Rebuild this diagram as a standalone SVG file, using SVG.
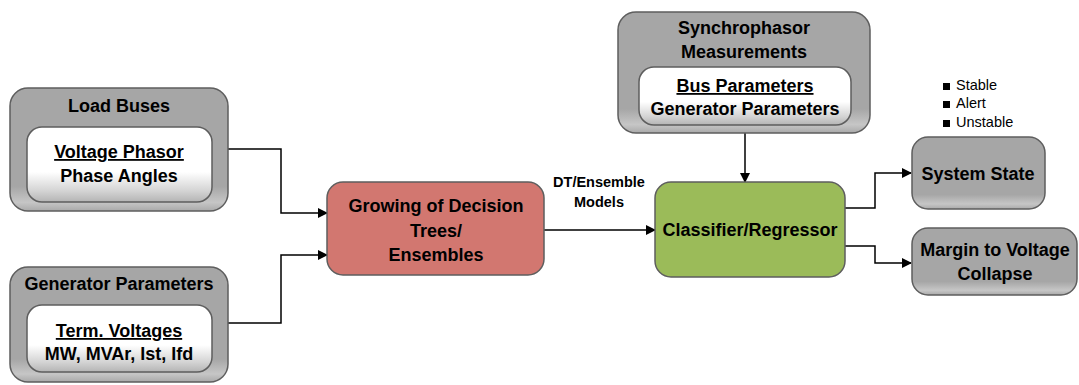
<svg xmlns="http://www.w3.org/2000/svg" width="1079" height="385" viewBox="0 0 1079 385">
  <defs>
    <linearGradient id="gGray" x1="0" y1="0" x2="0" y2="1">
      <stop offset="0" stop-color="#a6a6a6"/>
      <stop offset="0.8" stop-color="#a6a6a6"/>
      <stop offset="0.93" stop-color="#c6c6c6"/>
      <stop offset="1" stop-color="#a9a9a9"/>
    </linearGradient>
    <linearGradient id="gWhite" x1="0" y1="0" x2="0" y2="1">
      <stop offset="0" stop-color="#ffffff"/>
      <stop offset="0.6" stop-color="#ffffff"/>
      <stop offset="0.85" stop-color="#d4d4d4"/>
      <stop offset="1" stop-color="#b4b4b4"/>
    </linearGradient>
    <marker id="arr" markerWidth="10" markerHeight="10" refX="9" refY="5" orient="auto" markerUnits="userSpaceOnUse">
      <path d="M0,0 L10,5 L0,10 Z" fill="#000"/>
    </marker>
    <style>
      .outer { fill: url(#gGray); stroke: #5e5e5e; stroke-width: 1.5; }
      .inner { fill: url(#gWhite); stroke: #5e5e5e; stroke-width: 1.5; }
      .red { fill: #d27770; stroke: #5e5e5e; stroke-width: 1.5; }
      .green { fill: #9bbb59; stroke: #5e5e5e; stroke-width: 1.5; }
      .t { font-family: "Liberation Sans", Arial, sans-serif; font-weight: bold; font-size: 18px; fill: #000; text-anchor: middle; }
      .u { text-decoration: underline; }
      .s { font-family: "Liberation Sans", Arial, sans-serif; font-size: 14.5px; fill: #000; }
      .lbl { font-family: "Liberation Sans", Arial, sans-serif; font-weight: bold; font-size: 14.5px; fill: #000; text-anchor: middle; }
      .conn { fill: none; stroke: #000; stroke-width: 1.5; }
    </style>
  </defs>

  <!-- Connectors -->
  <g id="connectors">
    <polyline class="conn" points="228,149 281,149 281,213 327,213" marker-end="url(#arr)"/>
    <polyline class="conn" points="228,323 281,323 281,255 327,255" marker-end="url(#arr)"/>
    <line class="conn" x1="544" y1="230" x2="655" y2="230" marker-end="url(#arr)"/>
    <line class="conn" x1="745" y1="133" x2="745" y2="182" marker-end="url(#arr)"/>
    <polyline class="conn" points="845,208 875,208 875,173 911,173" marker-end="url(#arr)"/>
    <polyline class="conn" points="845,246 875,246 875,263 911,263" marker-end="url(#arr)"/>
    <text class="lbl" x="599" y="187">DT/Ensemble</text>
    <text class="lbl" x="599" y="207">Models</text>
  </g>

  <!-- Load Buses -->
  <g id="load-buses">
    <rect class="outer" x="10" y="88" width="218" height="123" rx="18"/>
    <text class="t" x="119" y="112">Load Buses</text>
    <rect class="inner" x="27" y="127" width="185" height="75" rx="15"/>
    <text class="t u" x="119" y="158">Voltage Phasor</text>
    <text class="t" x="119" y="182">Phase Angles</text>
  </g>

  <!-- Generator Parameters -->
  <g id="generator-parameters">
    <rect class="outer" x="10" y="267" width="218" height="115" rx="18"/>
    <text class="t" x="119" y="290">Generator Parameters</text>
    <rect class="inner" x="27" y="305" width="185" height="67" rx="15"/>
    <text class="t u" x="119" y="337">Term. Voltages</text>
    <text class="t" x="119" y="360">MW, MVAr, Ist, Ifd</text>
  </g>

  <!-- Growing of Decision Trees / Ensembles -->
  <g id="growing">
    <rect class="red" x="327" y="182" width="217" height="93" rx="16"/>
    <text class="t" x="436" y="212">Growing of Decision</text>
    <text class="t" x="436" y="237">Trees/</text>
    <text class="t" x="436" y="261">Ensembles</text>
  </g>

  <!-- Synchrophasor Measurements -->
  <g id="synchrophasor">
    <rect class="outer" x="618" y="12" width="252" height="121" rx="18"/>
    <text class="t" x="744" y="34">Synchrophasor</text>
    <text class="t" x="744" y="58">Measurements</text>
    <rect class="inner" x="639" y="67" width="212" height="58" rx="15"/>
    <text class="t u" x="745" y="92">Bus Parameters</text>
    <text class="t" x="745" y="115">Generator Parameters</text>
  </g>

  <!-- Classifier/Regressor -->
  <g id="classifier">
    <rect class="green" x="655" y="182" width="190" height="95" rx="16"/>
    <text class="t" x="750" y="236">Classifier/Regressor</text>
  </g>

  <!-- State legend -->
  <g id="state-legend">
    <rect x="943" y="83" width="7" height="7" fill="#000"/>
    <text class="s" x="956" y="90">Stable</text>
    <rect x="943" y="101" width="7" height="7" fill="#000"/>
    <text class="s" x="956" y="108">Alert</text>
    <rect x="943" y="120" width="7" height="7" fill="#000"/>
    <text class="s" x="956" y="127">Unstable</text>
  </g>

  <!-- System State -->
  <g id="system-state">
    <rect class="outer" x="912" y="137" width="133" height="72" rx="16"/>
    <text class="t" x="978" y="180">System State</text>
  </g>

  <!-- Margin to Voltage Collapse -->
  <g id="margin">
    <rect class="outer" x="912" y="228" width="165" height="67" rx="16"/>
    <text class="t" x="995" y="256">Margin to Voltage</text>
    <text class="t" x="995" y="280">Collapse</text>
  </g>
</svg>
